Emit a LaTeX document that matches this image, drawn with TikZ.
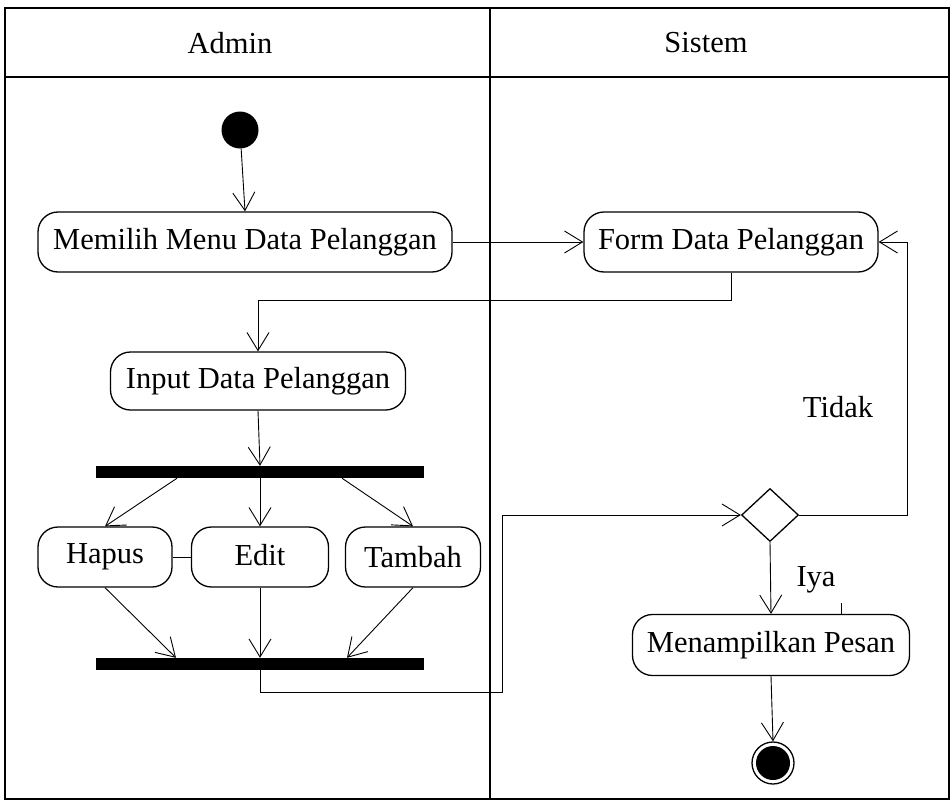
\documentclass[tikz,border=0pt]{standalone}
\usepackage{fontspec}
\setmainfont{Liberation Serif}
\usetikzlibrary{arrows.meta,shapes.geometric}
\begin{document}
\begin{tikzpicture}[x=1pt,y=-1pt,
  font=\fontsize{30.5}{34}\selectfont,
  lane/.style={line width=1.8pt},
  act/.style={draw, line width=1.3pt, rounded corners=20pt, align=center, inner sep=0pt},
  bar/.style={fill=black, minimum width=328pt, minimum height=12pt, inner sep=0pt},
  flow/.style={line width=0.9pt, -{Straight Barb[length=18pt,width=22pt,line width=0.9pt]}},
  plain/.style={line width=0.9pt}]
\useasboundingbox (0,0) rectangle (950,800);

% swimlanes
\draw[lane] (5,8) rectangle (949,799);
\draw[lane] (5,77) -- (949,77);
\draw[lane] (490,8) -- (490,799);
\node (hadmin) at (230,43) {Admin};
\node (hsistem) at (706,43) {Sistem};

% nodes
\node[circle, fill=black, minimum size=37pt, inner sep=0pt] (start) at (240,130) {};
\node[act, minimum width=414pt, minimum height=60pt] (mem) at (245,242) {Memilih Menu Data Pelanggan};
\node[act, minimum width=294pt, minimum height=60pt] (form) at (731,242) {Form Data Pelanggan};
\node[act, minimum width=295pt, minimum height=58pt] (input) at (258,381) {Input Data Pelanggan};
\node[bar] (bar1) at (260,472) {};
\node[act, minimum width=134pt, minimum height=60pt] (hapus) at (105,557) {Hapus};
\node[act, minimum width=137pt, minimum height=60pt] (edit) at (260,557) {\raisebox{5pt}{Edit}};
\node[act, minimum width=135pt, minimum height=60pt] (tambah) at (413,557) {Tambah};
\node[bar] (bar2) at (260,664) {};
\node[diamond, draw, line width=1.3pt, minimum width=57pt, minimum height=53pt, inner sep=0pt] (dec) at (770,515) {};
\node[act, minimum width=277pt, minimum height=61pt] (pesan) at (771,645) {Menampilkan Pesan};
\node[circle, draw, line width=1.3pt, minimum size=42pt, inner sep=0pt] (stop) at (773,763) {};
\node[circle, fill=black, minimum size=34pt, inner sep=0pt] (stopin) at (stop.center) {};

\coordinate (bend) at (502,692);
\coordinate (loop) at (907,515);

% flows
\draw[flow] (start) -- (mem.north);
\draw[flow] (mem.east) -- (form.west);
\draw[flow] (form.south) -- ++(0,28) -| (input.north);
\draw[flow] (input.south) -- (bar1.north);
\draw[flow] ([xshift=-83pt]bar1.south) -- (hapus.north);
\draw[flow] (bar1.south) -- (edit.north);
\draw[flow] ([xshift=82pt]bar1.south) -- (tambah.north);
\draw[plain] (hapus.east) -- (edit.west);
\draw[flow] (hapus.south) -- ([xshift=-84pt]bar2.north);
\draw[flow] (edit.south) -- (bar2.north);
\draw[flow] (tambah.south) -- ([xshift=87pt]bar2.north);
\draw[flow] (bar2.south) |- (bend) |- (dec.west);
\draw[flow] (dec.east) -- (loop) |- (form.east);
\draw[flow] (dec.south) -- (pesan.north);
\draw[flow] (pesan.south) -- (stop.north);
\draw[plain] ([xshift=70pt]pesan.north) -- ++(0,-11);

% guard labels
\node (tidak) at (838,407) {Tidak};
\node (iya) at (816,580) {Iya};
\end{tikzpicture}
\end{document}
